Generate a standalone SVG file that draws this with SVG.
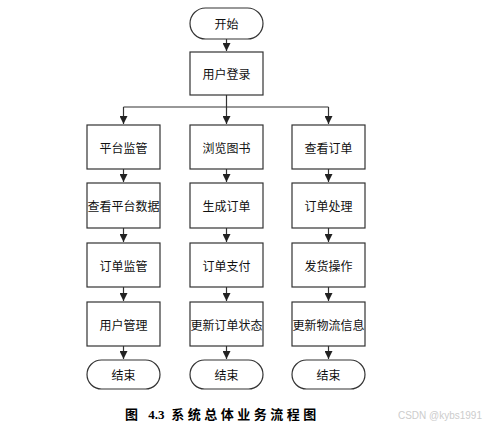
<svg xmlns="http://www.w3.org/2000/svg" width="485" height="433" viewBox="0 0 485 433">
<defs>
<marker id="ah" markerWidth="8" markerHeight="8" refX="6" refY="3" orient="auto" markerUnits="userSpaceOnUse" viewBox="0 0 6 6">
<path d="M0,0 L6,3 L0,6 Z" fill="#222"/>
</marker>
<style>
.n{fill:#fff;stroke:#333;stroke-width:1.2}
.t{font-family:"Noto Sans CJK SC","Noto Sans",sans-serif;font-size:12px;fill:#111;text-anchor:middle;dominant-baseline:central}
.c{fill:none;stroke:#333;stroke-width:1.2}
</style>
</defs>
<rect width="485" height="433" fill="#fff"/>
<g id="connectors">
<path class="c" d="M226.5,39 V51" marker-end="url(#ah)"/>
<path class="c" d="M226.5,95 V107 M123.5,107 H328.5"/>
<path class="c" d="M123.5,107 V124" marker-end="url(#ah)"/>
<path class="c" d="M226.5,107 V124" marker-end="url(#ah)"/>
<path class="c" d="M328.5,107 V124" marker-end="url(#ah)"/>
<path class="c" d="M123.5,169 V182" marker-end="url(#ah)"/>
<path class="c" d="M226.5,169 V182" marker-end="url(#ah)"/>
<path class="c" d="M328.5,169 V182" marker-end="url(#ah)"/>
<path class="c" d="M123.5,228 V242" marker-end="url(#ah)"/>
<path class="c" d="M226.5,228 V242" marker-end="url(#ah)"/>
<path class="c" d="M328.5,228 V242" marker-end="url(#ah)"/>
<path class="c" d="M123.5,287 V301" marker-end="url(#ah)"/>
<path class="c" d="M226.5,287 V301" marker-end="url(#ah)"/>
<path class="c" d="M328.5,287 V301" marker-end="url(#ah)"/>
<path class="c" d="M123.5,346 V359" marker-end="url(#ah)"/>
<path class="c" d="M226.5,346 V359" marker-end="url(#ah)"/>
<path class="c" d="M328.5,346 V359" marker-end="url(#ah)"/>
</g>
<g id="start"><rect class="n" x="190" y="8" width="73" height="31" rx="15.5"/><text class="t" x="226.5" y="23.5">开始</text></g>
<g id="login"><rect class="n" x="190" y="52" width="73" height="43"/><text class="t" x="226.5" y="73.5">用户登录</text></g>
<g id="c1r1"><rect class="n" x="87" y="125" width="73" height="44"/><text class="t" x="123.5" y="147">平台监管</text></g>
<g id="c2r1"><rect class="n" x="190" y="125" width="73" height="44"/><text class="t" x="226.5" y="147">浏览图书</text></g>
<g id="c3r1"><rect class="n" x="292" y="125" width="73" height="44"/><text class="t" x="328.5" y="147">查看订单</text></g>
<g id="c1r2"><rect class="n" x="87" y="183" width="73" height="45"/><text class="t" x="123.5" y="205.5">查看平台数据</text></g>
<g id="c2r2"><rect class="n" x="190" y="183" width="73" height="45"/><text class="t" x="226.5" y="205.5">生成订单</text></g>
<g id="c3r2"><rect class="n" x="292" y="183" width="73" height="45"/><text class="t" x="328.5" y="205.5">订单处理</text></g>
<g id="c1r3"><rect class="n" x="87" y="243" width="73" height="44"/><text class="t" x="123.5" y="265">订单监管</text></g>
<g id="c2r3"><rect class="n" x="190" y="243" width="73" height="44"/><text class="t" x="226.5" y="265">订单支付</text></g>
<g id="c3r3"><rect class="n" x="292" y="243" width="73" height="44"/><text class="t" x="328.5" y="265">发货操作</text></g>
<g id="c1r4"><rect class="n" x="87" y="302" width="73" height="44"/><text class="t" x="123.5" y="324">用户管理</text></g>
<g id="c2r4"><rect class="n" x="190" y="302" width="73" height="44"/><text class="t" x="226.5" y="324">更新订单状态</text></g>
<g id="c3r4"><rect class="n" x="292" y="302" width="73" height="44"/><text class="t" x="328.5" y="324">更新物流信息</text></g>
<g id="end1"><rect class="n" x="87" y="360" width="73" height="29" rx="14.5"/><text class="t" x="123.5" y="374.5">结束</text></g>
<g id="end2"><rect class="n" x="190" y="360" width="73" height="29" rx="14.5"/><text class="t" x="226.5" y="374.5">结束</text></g>
<g id="end3"><rect class="n" x="292" y="360" width="73" height="29" rx="14.5"/><text class="t" x="328.5" y="374.5">结束</text></g>
<text x="125" y="419" font-family="'Liberation Serif','Noto Sans CJK SC',serif" font-size="13" font-weight="bold" fill="#000" letter-spacing="3.5">图 <tspan letter-spacing="0">4.3</tspan> 系统总体业务流程图</text>
<text x="482" y="419" text-anchor="end" font-family="'Liberation Sans','Noto Sans',sans-serif" font-size="10" fill="#ccc">CSDN @kybs1991</text>
</svg>
